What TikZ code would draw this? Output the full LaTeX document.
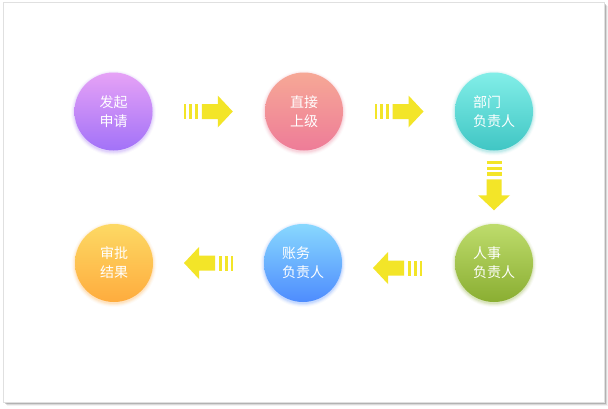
\documentclass[tikz,border=0pt]{standalone}
\usepackage{fontspec}
\newfontfamily\cjk{Noto Sans CJK SC}
\usetikzlibrary{calc}
\definecolor{arrowyellow}{HTML}{F3E528}
\definecolor{purpleT}{HTML}{E6A2F6}
\definecolor{purpleB}{HTML}{A272F8}
\definecolor{coralT}{HTML}{F6A896}
\definecolor{coralB}{HTML}{EE7C98}
\definecolor{tealT}{HTML}{82EEE8}
\definecolor{tealB}{HTML}{40C6C4}
\definecolor{greenT}{HTML}{BEDC6C}
\definecolor{greenB}{HTML}{8AAE32}
\definecolor{blueT}{HTML}{88D8FE}
\definecolor{blueB}{HTML}{4E8CFE}
\definecolor{orangeT}{HTML}{FDD964}
\definecolor{orangeB}{HTML}{FEAC3E}
\newcommand\blockarrow[2]{%
  \begin{scope}[shift={#1}, rotate=#2]
    \fill[arrowyellow] (-24.5,-7.5) rectangle (-22,7.5);
    \fill[arrowyellow] (-19,-7.5) rectangle (-16,7.5);
    \fill[arrowyellow] (-13.5,-7.5) rectangle (-10,7.5);
    \fill[arrowyellow] (-6.5,-7.5) -- (9.5,-7.5) -- (9.5,-16) -- (24.5,0)
      -- (9.5,16) -- (9.5,7.5) -- (-6.5,7.5) -- cycle;
  \end{scope}}
\newcommand\bubbleglow[2]{%
  \foreach \r/\op in {42.5/0.04,41.5/0.07,40.5/0.10,39.5/0.14}
    \fill[#2, opacity=\op] ($(#1)+(0,1.5)$) circle[radius=\r pt];}
\begin{document}
\begin{tikzpicture}[x=1pt,y=-1pt,
  bubble/.style={circle, minimum size=78pt, inner sep=0pt, text=white,
    align=left, font=\cjk\fontsize{14}{19}\selectfont}]
\useasboundingbox (0,0) rectangle (608,408);
% card with shadow
\foreach \o/\op in {3.5/0.05,2.5/0.10,1.5/0.18}
  \fill[black, opacity=\op] (3+\o,2+\o) rectangle (604+\o,402+\o);
\fill[white, draw=black!12, line width=0.6pt] (3,2) rectangle (604,402);
% node centres
\coordinate (c1) at (113.5,111.5);
\coordinate (c2) at (304,111.5);
\coordinate (c3) at (494,111.5);
\coordinate (c4) at (494,263);
\coordinate (c5) at (303,263);
\coordinate (c6) at (114,263);
% glows
\bubbleglow{c1}{purpleB}
\bubbleglow{c2}{coralB}
\bubbleglow{c3}{tealB}
\bubbleglow{c4}{greenB}
\bubbleglow{c5}{blueB}
\bubbleglow{c6}{orangeB}
% bubbles
\node[bubble, top color=purpleT, bottom color=purpleB] (n1) at (c1) {发起\\申请};
\node[bubble, top color=coralT, bottom color=coralB] (n2) at (c2) {直接\\上级};
\node[bubble, top color=tealT, bottom color=tealB] (n3) at (c3) {部门\\负责人};
\node[bubble, top color=greenT, bottom color=greenB] (n4) at (c4) {人事\\负责人};
\node[bubble, top color=blueT, bottom color=blueB] (n5) at (c5) {账务\\负责人};
\node[bubble, top color=orangeT, bottom color=orangeB] (n6) at (c6) {审批\\结果};
% arrows
\blockarrow{($(n1)!0.5!(n2)+(-0.5,0)$)}{0}
\blockarrow{($(n2)!0.5!(n3)$)}{0}
\blockarrow{($(n3)!0.5!(n4)+(0,-1.5)$)}{-90}
\blockarrow{($(n4)!0.5!(n5)+(-1,5)$)}{180}
\blockarrow{($(n5)!0.5!(n6)$)}{180}
\end{tikzpicture}
\end{document}
